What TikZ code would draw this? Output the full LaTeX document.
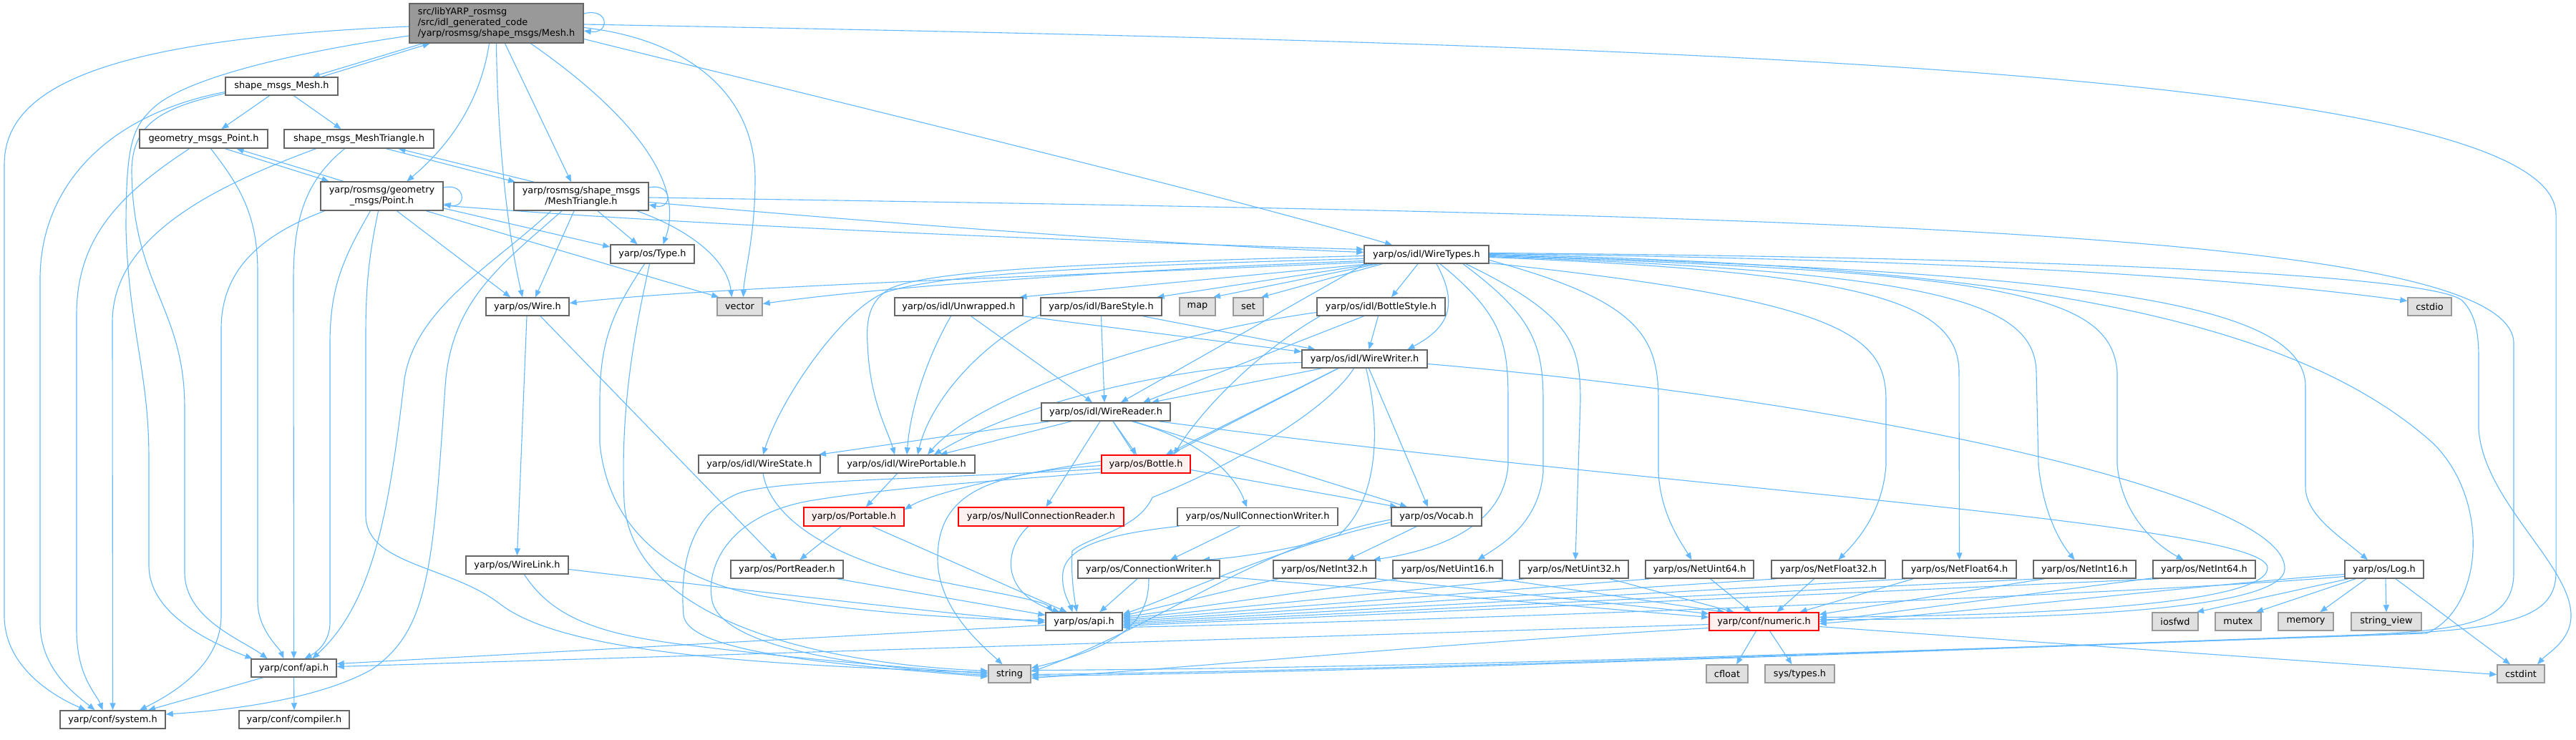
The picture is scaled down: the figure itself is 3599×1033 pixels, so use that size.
\documentclass[tikz,border=0pt]{standalone}
\usepackage{fontspec}
\setmainfont{DejaVu Sans}
\usetikzlibrary{arrows.meta,backgrounds}
\definecolor{lijnblauw}{HTML}{63B8FF}
\definecolor{randgrijs}{HTML}{666666}
\definecolor{sysrand}{HTML}{999999}
\definecolor{sysvul}{HTML}{E0E0E0}
\definecolor{hoofdvul}{HTML}{999999}
\definecolor{rodevul}{HTML}{FFF0F0}

\begin{document}
\begin{tikzpicture}[x=1pt,y=-1pt]

    % Stijlen voor de bestanden en de include-pijlen
    \tikzset{
        hdr/.style={draw=randgrijs, fill=white, line width=1.5pt, inner sep=0pt, minimum height=25pt, font=\fontsize{12.9}{15}\selectfont},
        syshdr/.style={hdr, draw=sysrand, fill=sysvul},
        trunchdr/.style={hdr, draw=red, fill=rodevul},
        mainhdr/.style={hdr, fill=hoofdvul, align=left},
        incl/.style={draw=lijnblauw, line width=1.1pt, -{Triangle[length=10pt,width=8pt]}}
    }

    \useasboundingbox (0,0) rectangle (3599,1033);

    % --- BESTANDEN ---
    \node[mainhdr, minimum width=243pt, minimum height=55pt] (mesh) at (693.5,32.5) {src/libYARP\_rosmsg\\/src/idl\_generated\_code\\/yarp/rosmsg/shape\_msgs/Mesh.h};
    \node[hdr, minimum width=157pt] (oldmesh) at (393.5,120.5) {shape\_msgs\_Mesh.h};
    \node[hdr, minimum width=179pt, minimum height=26pt] (oldpoint) at (284.5,194) {geometry\_msgs\_Point.h};
    \node[hdr, minimum width=209pt, minimum height=26pt] (oldtri) at (501.5,194) {shape\_msgs\_MeshTriangle.h};
    \node[hdr, minimum width=171pt, minimum height=40pt, align=center] (point) at (533.5,274) {yarp/rosmsg/geometry\\\_msgs/Point.h};
    \node[hdr, minimum width=188pt, minimum height=39pt, align=center] (tri) at (812,274.5) {yarp/rosmsg/shape\_msgs\\/MeshTriangle.h};
    \node[hdr, minimum width=117pt, minimum height=26pt] (type) at (911.5,355) {yarp/os/Type.h};
    \node[hdr, minimum width=174pt] (wiretypes) at (1993,355.5) {yarp/os/idl/WireTypes.h};

    \node[hdr, minimum width=116pt] (wire) at (737,428.5) {yarp/os/Wire.h};
    \node[syshdr, minimum width=63pt] (vector) at (1033.5,428.5) {vector};
    \node[hdr, minimum width=179pt] (unwrapped) at (1339.5,428.5) {yarp/os/idl/Unwrapped.h};
    \node[hdr, minimum width=169pt] (barestyle) at (1538.5,428.5) {yarp/os/idl/BareStyle.h};
    \node[syshdr, minimum width=50pt] (map) at (1673,428.5) {map};
    \node[syshdr, minimum width=42pt] (set) at (1744,428.5) {set};
    \node[hdr, minimum width=179pt] (bottlestyle) at (1929.5,428.5) {yarp/os/idl/BottleStyle.h};
    \node[syshdr, minimum width=61pt] (cstdio) at (3394.5,428.5) {cstdio};

    \node[hdr, minimum width=175pt] (wirewriter) at (1906.5,501.5) {yarp/os/idl/WireWriter.h};
    \node[hdr, minimum width=180pt] (wirereader) at (1545,575.5) {yarp/os/idl/WireReader.h};

    \node[hdr, minimum width=170pt] (wirestate) at (1061,648.5) {yarp/os/idl/WireState.h};
    \node[hdr, minimum width=191pt] (wireportable) at (1266.5,648.5) {yarp/os/idl/WirePortable.h};
    \node[trunchdr, minimum width=124pt] (bottle) at (1601,648.5) {yarp/os/Bottle.h};

    \node[trunchdr, minimum width=140pt, minimum height=26pt] (portable) at (1193,722) {yarp/os/Portable.h};
    \node[trunchdr, minimum width=231pt, minimum height=26pt] (ncreader) at (1454.5,722) {yarp/os/NullConnectionReader.h};
    \node[hdr, minimum width=224pt] (ncwriter) at (1757,722) {yarp/os/NullConnectionWriter.h};
    \node[hdr, minimum width=126pt, minimum height=26pt] (vocab) at (2007,722) {yarp/os/Vocab.h};

    \node[hdr, minimum width=143pt] (wirelink) at (722.5,789.5) {yarp/os/WireLink.h};
    \node[hdr, minimum width=157pt] (portreader) at (1099.5,795.5) {yarp/os/PortReader.h};
    \node[hdr, minimum width=198pt] (connwriter) at (1605,795.5) {yarp/os/ConnectionWriter.h};
    \foreach \nm/\x/\w in {NetInt32/1850.5/143, NetUint16/2022.5/153, NetUint32/2199/152, NetUint64/2374.5/151, NetFloat32/2554.5/159, NetFloat64/2737.5/159, NetInt16/2912.5/143, NetInt64/3079.5/143}
        \node[hdr, minimum width=\w pt] (\nm) at (\x,795.5) {yarp/os/\nm.h};
    \node[hdr, minimum width=110pt] (log) at (3331,795.5) {yarp/os/Log.h};

    \node[hdr, minimum width=107pt] (osapi) at (1514.5,868.5) {yarp/os/api.h};
    \node[trunchdr, minimum width=153pt] (numeric) at (2464.5,868.5) {yarp/conf/numeric.h};
    \foreach \nm/\x/\w in {iosfwd/3039/64, mutex/3127/64, memory/3221.5/77}
        \node[syshdr, minimum width=\w pt] (\nm) at (\x,868.5) {\nm};
    \node[syshdr, minimum width=98pt] (stringview) at (3334,868.5) {string\_view};

    \node[hdr, minimum width=119pt] (confapi) at (410.5,933.5) {yarp/conf/api.h};
    \node[syshdr, minimum width=59pt] (string) at (1410.5,941.5) {string};
    \node[syshdr, minimum width=58pt] (cfloat) at (2413,941.5) {cfloat};
    \node[syshdr, minimum width=97pt] (systypes) at (2514.5,941.5) {sys/types.h};
    \node[syshdr, minimum width=66pt] (cstdint) at (3522,941.5) {cstdint};
    \node[hdr, minimum width=147pt] (system) at (157.5,1005.5) {yarp/conf/system.h};
    \node[hdr, minimum width=154pt] (compiler) at (411,1005.5) {yarp/conf/compiler.h};

    \begin{pgfonlayer}{background}
    % --- PIJLEN VANUIT HET HOOFDBESTAND ---
    \draw[incl] ([yshift=13.5pt]mesh.east) .. controls (852,10) and (852,48) .. ([yshift=-10.5pt]mesh.east);
    \draw[incl] ([xshift=-103pt]mesh.south) -- ([xshift=43pt]oldmesh.north);
    \draw[incl] ([xshift=56pt]oldmesh.north) -- ([xshift=-93pt]mesh.south);
    \draw[incl] ([yshift=-4.5pt]mesh.west) .. controls (150,55) and (6,120) .. (6,230) -- (6,860) .. controls (6,935) and (80,975) .. ([xshift=-37.5pt]system.north);
    \draw[incl] ([yshift=-17.5pt]mesh.west) .. controls (400,75) and (260,110) .. (215,150) .. controls (185,178) and (176,200) .. (176,320) .. controls (180,460) and (208,520) .. (208,640) -- (208,790) .. controls (208,860) and (300,900) .. ([xshift=-58pt]confapi.north);
    \draw[incl] ([xshift=-10pt]mesh.south) .. controls (670,150) and (620,210) .. ([xshift=35pt]point.north);
    \draw[incl] (mesh.south) .. controls (695,200) and (710,330) .. ([xshift=-7pt]wire.north);
    \draw[incl] ([xshift=12pt]mesh.south) -- ([xshift=-14pt]tri.north);
    \draw[incl] ([xshift=48pt]mesh.south) .. controls (870,150) and (960,250) .. ([xshift=15pt]type.north);
    \draw[incl] ([yshift=-6pt]mesh.east) .. controls (960,55) and (1055,130) .. (1055,250) .. controls (1055,330) and (1040,380) .. ([xshift=5pt]vector.north);
    \draw[incl] ([yshift=-22pt]mesh.east) .. controls (1200,150) and (1700,270) .. ([xshift=-48pt]wiretypes.north);
    \draw[incl] ([yshift=-1.5pt]mesh.east) .. controls (2200,60) and (3571,90) .. (3571,300) -- (3571,800) .. controls (3571,866) and (3500,880) .. (3300,888) .. controls (2800,905) and (2000,938) .. ([yshift=-3pt]string.east);

    % --- OUDE SHAPE/GEOMETRY HEADERS ---
    \draw[incl] ([yshift=-8pt]oldmesh.west) .. controls (150,160) and (56,260) .. (56,390) -- (56,870) .. controls (56,935) and (105,970) .. ([xshift=-25pt]system.north);
    \draw[incl] ([yshift=-10pt]oldmesh.west) .. controls (230,150) and (184,170) .. (184,240) .. controls (186,400) and (258,430) .. (258,570) -- (258,800) .. controls (258,865) and (340,895) .. ([xshift=-37pt]confapi.north);
    \draw[incl] ([xshift=-17pt]oldmesh.south) -- ([xshift=25pt]oldpoint.north);
    \draw[incl] ([xshift=17pt]oldmesh.south) -- ([xshift=-25pt]oldtri.north);
    \draw[incl] ([xshift=-20pt]oldpoint.south) .. controls (170,270) and (107,330) .. (107,440) -- (107,880) .. controls (107,945) and (135,970) .. ([xshift=-14pt]system.north);
    \draw[incl] ([xshift=10pt]oldpoint.south) .. controls (335,260) and (360,300) .. (360,380) -- (360,840) .. controls (360,880) and (390,905) .. ([xshift=-14pt]confapi.north);
    \draw[incl] ([xshift=30pt]oldpoint.south) -- ([xshift=-74pt]point.north);
    \draw[incl] ([xshift=-54pt]point.north) -- ([xshift=46pt]oldpoint.south);
    \draw[incl] ([xshift=-60pt]oldtri.south) .. controls (300,260) and (157,330) .. (157,450) -- (system.north);
    \draw[incl] ([xshift=-20pt]oldtri.south) .. controls (430,250) and (410,300) .. (410,390) -- (confapi.north);
    \draw[incl] ([xshift=38pt]oldtri.south) -- ([xshift=-92pt]tri.north);
    \draw[incl] ([xshift=-66pt]tri.north) -- ([xshift=55pt]oldtri.south);

    % --- POINT EN MESHTRIANGLE ---
    \draw[incl] ([yshift=12pt]point.east) .. controls (652,255) and (652,292) .. ([yshift=-11pt]point.east);
    \draw[incl] ([yshift=12.5pt]tri.east) .. controls (940,255) and (940,293) .. ([yshift=-11.5pt]tri.east);
    \draw[incl] ([xshift=-80pt]point.south) .. controls (360,330) and (309,380) .. (309,460) -- (309,860) .. controls (309,925) and (250,965) .. ([xshift=37.5pt]system.north);
    \draw[incl] ([xshift=-16pt]point.south) .. controls (480,360) and (461,400) .. (461,480) -- (461,870) .. controls (461,895) and (445,910) .. ([xshift=15pt]confapi.north);
    \draw[incl] ([xshift=-5pt]point.south) .. controls (515,360) and (511,400) .. (511,470) -- (511,720) .. controls (511,790) and (630,790) .. (700,845) .. controls (780,905) and (1000,928) .. ([yshift=2pt]string.west);
    \draw[incl] ([xshift=21pt]point.south) -- ([xshift=-24pt]wire.north);
    \draw[incl] ([xshift=62pt]point.south) -- ([xshift=3pt]vector.north west);
    \draw[incl] ([yshift=-17pt]point.east) -- ([yshift=10pt]type.west);
    \draw[incl] ([yshift=-13pt]point.east) .. controls (1000,318) and (1600,340) .. ([yshift=7pt]wiretypes.west);
    \draw[incl] ([xshift=-27pt]tri.south) .. controls (700,370) and (630,420) .. (622,540) .. controls (605,790) and (600,880) .. (520,935) .. controls (450,975) and (330,992) .. ([yshift=7.5pt]system.east);
    \draw[incl] ([xshift=-42pt]tri.south) .. controls (690,370) and (580,430) .. (565,530) .. controls (545,700) and (525,840) .. ([xshift=26pt]confapi.north);
    \draw[incl] ([xshift=-10pt]tri.south) -- ([xshift=11pt]wire.north);
    \draw[incl] ([xshift=23pt]tri.south) -- ([xshift=-21pt]type.north);
    \draw[incl] ([xshift=78pt]tri.south) .. controls (960,320) and (1015,360) .. ([xshift=-11pt]vector.north);
    \draw[incl] ([yshift=-1.5pt]tri.east) .. controls (2500,300) and (3512,320) .. (3512,480) -- (3512,800) .. controls (3512,868) and (3450,880) .. (3300,887) .. controls (2800,905) and (2000,936) .. ([yshift=-1pt]string.east);
    \draw[incl] ([yshift=-8pt]tri.east) .. controls (1300,318) and (1700,345) .. ([yshift=3pt]wiretypes.west);

    % --- TYPE, WIRE EN WIRELINK ---
    \draw[incl] ([xshift=-11pt]type.south) .. controls (860,430) and (838,470) .. (838,560) -- (838,620) .. controls (850,740) and (940,820) .. (1100,838) .. controls (1250,862) and (1400,866) .. ([yshift=2pt]osapi.west);
    \draw[incl] ([xshift=-4pt]type.south) .. controls (890,450) and (866,560) .. (872,700) .. controls (880,850) and (1100,925) .. ([yshift=4pt]string.west);
    \draw[incl] ([xshift=-1pt]wire.south) -- (wirelink.north);
    \draw[incl] ([xshift=18pt]wire.south) -- ([xshift=-14pt]portreader.north);
    \draw[incl] ([yshift=-6pt]wirelink.east) .. controls (1000,820) and (1300,855) .. ([yshift=-1pt]osapi.west);
    \draw[incl] ([xshift=10pt]wirelink.south) .. controls (770,860) and (830,885) .. (950,900) .. controls (1150,925) and (1300,935) .. (string.west);

    % --- WIRETYPES NAAR LINKS ---
    \draw[incl] ([yshift=-2pt]wiretypes.west) .. controls (1500,368) and (1300,378) .. (1244,403) .. controls (1215,420) and (1210,445) .. (1212,480) .. controls (1215,560) and (1240,600) .. ([xshift=-16.5pt]wireportable.north);
    \draw[incl] ([yshift=-6pt]wiretypes.west) .. controls (1500,372) and (1300,385) .. (1233,410) .. controls (1170,440) and (1090,560) .. ([xshift=5pt]wirestate.north);
    \draw[incl] ([yshift=-9pt]wiretypes.west) .. controls (1500,380) and (1200,405) .. ([yshift=4pt]vector.east);
    \draw[incl] ([yshift=-11pt]wiretypes.west) .. controls (1500,385) and (1000,400) .. ([yshift=5pt]wire.east);
    \draw[incl] ([xshift=2pt]wiretypes.south west) -- ([xshift=21pt]wirereader.north);
    \draw[incl] ([xshift=8pt]wiretypes.south west) -- ([xshift=85pt]unwrapped.north);
    \draw[incl] ([xshift=14pt]wiretypes.south west) -- ([xshift=78pt]barestyle.north);
    \draw[incl] ([xshift=20pt]wiretypes.south west) -- ([xshift=22pt]map.north);
    \draw[incl] ([xshift=26pt]wiretypes.south west) -- ([xshift=18pt]set.north);
    \draw[incl] ([xshift=-12pt]wiretypes.south) -- ([xshift=14.5pt]bottlestyle.north);
    \draw[incl] ([xshift=14pt]wiretypes.south) .. controls (2035,420) and (2030,455) .. ([xshift=60pt]wirewriter.north);

    % --- WIRETYPES NAAR DE NET-TYPES ---
    \draw[incl] ([xshift=19pt]wiretypes.south) .. controls (2100,440) and (2107,480) .. (2107,560) -- (2107,650) .. controls (2100,740) and (2000,770) .. ([xshift=68pt]NetInt32.north);
    \draw[incl] ([xshift=51pt]wiretypes.south) .. controls (2140,440) and (2156,480) .. (2156,560) -- (2156,660) .. controls (2150,730) and (2100,760) .. ([xshift=42pt]NetUint16.north);
    \draw[incl] ([xshift=55pt]wiretypes.south) .. controls (2195,440) and (2208,480) .. (2208,560) -- ([xshift=2pt]NetUint32.north);
    \draw[incl] ([yshift=-8pt]wiretypes.east) .. controls (2290,420) and (2317,470) .. (2317,560) -- (2317,660) .. controls (2320,720) and (2350,760) .. ([xshift=-11pt]NetUint64.north);
    \draw[incl] ([yshift=-12pt]wiretypes.east) .. controls (2580,420) and (2635,470) .. (2635,560) -- (2635,650) .. controls (2630,720) and (2590,760) .. ([xshift=14pt]NetFloat32.north);
    \draw[incl] ([yshift=-4pt]wiretypes.east) .. controls (2600,380) and (2737,420) .. (2737,520) -- (NetFloat64.north);
    \draw[incl] ([yshift=-3pt]wiretypes.east) .. controls (2700,380) and (2843,420) .. (2845,520) -- (2848,650) .. controls (2855,720) and (2880,760) .. ([xshift=-14pt]NetInt16.north);
    \draw[incl] ([yshift=-2pt]wiretypes.east) .. controls (2800,380) and (2950,410) .. (2958,520) -- (2958,650) .. controls (2965,720) and (3010,760) .. ([xshift=-29pt]NetInt64.north);
    \draw[incl] ([yshift=-1pt]wiretypes.east) .. controls (2900,380) and (3221,420) .. (3221,540) -- (3221,680) .. controls (3221,720) and (3270,750) .. ([xshift=-23pt]log.north);
    \draw[incl] ([yshift=1pt]wiretypes.east) .. controls (2700,362) and (3100,385) .. ([yshift=8pt]cstdio.west);
    \draw[incl] ([yshift=2pt]wiretypes.east) .. controls (2900,360) and (3400,385) .. (3440,420) .. controls (3460,440) and (3463,470) .. (3463,500) -- (3463,600) .. controls (3470,700) and (3592,790) .. (3592,860) .. controls (3592,895) and (3560,912) .. ([xshift=23pt]cstdint.north);
    \draw[incl] (wiretypes.east) .. controls (2800,370) and (3200,440) .. (3400,620) .. controls (3480,700) and (3470,850) .. (3390,885) .. controls (2800,905) and (2000,934) .. ([yshift=5pt]string.east);

    % --- IDL STIJLEN ---
    \draw[incl] ([xshift=-11pt]unwrapped.south) .. controls (1295,500) and (1272,570) .. ([xshift=0.5pt]wireportable.north);
    \draw[incl] ([xshift=17pt]unwrapped.south) -- ([xshift=-19pt]wirereader.north);
    \draw[incl] (unwrapped.south east) -- ([yshift=10pt]wirewriter.west);
    \draw[incl] ([yshift=2pt]barestyle.south west) .. controls (1370,480) and (1300,560) .. ([xshift=15.5pt]wireportable.north);
    \draw[incl] (barestyle.south) -- ([xshift=-2pt]wirereader.north);
    \draw[incl] ([xshift=58pt]barestyle.south) -- ([xshift=-69pt]wirewriter.north);
    \draw[incl] ([yshift=-8pt]bottlestyle.west) .. controls (1600,470) and (1360,560) .. ([xshift=29.5pt]wireportable.north);
    \draw[incl] ([xshift=5pt]bottlestyle.south west) .. controls (1760,490) and (1680,570) .. ([xshift=39pt]bottle.north);
    \draw[incl] ([xshift=-24pt]bottlestyle.south) -- ([xshift=52pt]wirereader.north);
    \draw[incl] ([xshift=-4pt]bottlestyle.south) -- ([xshift=6pt]wirewriter.north);

    % --- WIREWRITER ---
    \draw[incl] ([yshift=-5pt]wirewriter.west) .. controls (1650,510) and (1430,560) .. ([xshift=38.5pt]wireportable.north);
    \draw[incl] ([xshift=-60pt]wirewriter.south) -- ([xshift=64pt]wirereader.north);
    \draw[incl] ([xshift=-37pt]wirewriter.south) -- ([xshift=28pt]bottle.north);
    \draw[incl] ([xshift=-37pt]wirewriter.south) -- (1629,638) -- (1539,655) .. controls (1300,670) and (1080,670) .. (1030,690) .. controls (960,720) and (950,800) .. (955,860) .. controls (962,910) and (1150,928) .. ([yshift=-4pt]string.west);
    \draw[incl] ([xshift=-15pt]wirewriter.south) .. controls (1850,580) and (1700,660) .. (1610,695) .. controls (1590,740) and (1520,750) .. (1498,770) .. controls (1496,800) and (1500,830) .. ([xshift=-10pt]osapi.north);
    \draw[incl] ([xshift=2pt]wirewriter.south) .. controls (1930,600) and (1925,700) .. (1870,748) .. controls (1800,770) and (1720,780) .. ([xshift=75pt]connwriter.north);
    \draw[incl] ([xshift=6pt]wirewriter.south) -- ([xshift=-12pt]vocab.north);
    \draw[incl] ([yshift=-7pt]wirewriter.east) .. controls (2600,560) and (3195,690) .. (3192,795) .. controls (3190,850) and (2900,866) .. ([yshift=3pt]numeric.east);

    % --- WIREREADER ---
    \draw[incl] ([xshift=-78pt]wirereader.south) -- ([xshift=83pt]wirestate.north);
    \draw[incl] ([xshift=-48pt]wirereader.south) -- ([xshift=47pt]wireportable.north);
    \draw[incl] ([xshift=-8pt]wirereader.south) -- ([xshift=7pt]ncreader.north);
    \draw[incl] ([xshift=10pt]wirereader.south) -- ([xshift=-13pt]bottle.north);
    \draw[incl] ([xshift=10pt]wirereader.south) -- (1588,640) -- (1539,660) .. controls (1420,670) and (1250,680) .. (1130,700) .. controls (1020,720) and (985,790) .. (995,840) .. controls (1010,905) and (1200,932) .. ([yshift=-2pt]string.west);
    \draw[incl] ([xshift=36pt]wirereader.south) .. controls (1660,610) and (1720,650) .. ([xshift=-15pt]ncwriter.north);
    \draw[incl] ([xshift=39pt]wirereader.south) -- ([xshift=-41pt]vocab.north);
    \draw[incl] ([xshift=74pt]wirereader.south) .. controls (2300,680) and (3165,730) .. (3168,793) .. controls (3170,840) and (2900,860) .. ([yshift=6pt]numeric.east);

    % --- MIDDENLAAG ---
    \draw[incl] ([xshift=5pt]wirestate.south) .. controls (1080,740) and (1200,790) .. (1300,810) .. controls (1400,830) and (1460,840) .. ([xshift=-44pt]osapi.north);
    \draw[incl] ([xshift=-13pt]wireportable.south) -- ([xshift=17pt]portable.north);
    \draw[incl] ([yshift=4pt]bottle.west) .. controls (1400,665) and (1300,690) .. ([yshift=10pt]portable.east);
    \draw[incl] ([yshift=-2pt]bottle.west) .. controls (1380,660) and (1310,690) .. (1310,780) .. controls (1310,850) and (1370,900) .. ([xshift=-10pt]string.north);
    \draw[incl] ([yshift=-8pt]bottle.east) -- ([xshift=-55pt]vocab.north);
    \draw[incl] ([xshift=-18pt]portable.south) -- ([xshift=18pt]portreader.north);
    \draw[incl] ([xshift=26pt]portable.south) -- ([xshift=-24pt]osapi.north);
    \draw[incl] ([xshift=-18pt]ncreader.south) .. controls (1400,770) and (1400,830) .. ([xshift=-34pt]osapi.north);
    \draw[incl] ([xshift=-110pt]ncwriter.south) .. controls (1560,745) and (1490,760) .. (1485,800) .. controls (1482,825) and (1495,845) .. ([xshift=-16pt]osapi.north);
    \draw[incl] ([xshift=-25pt]ncwriter.south) -- ([xshift=30pt]connwriter.north);
    \draw[incl] ([xshift=-28pt]vocab.south) -- ([xshift=32pt]NetInt32.north);
    \draw[incl] ([yshift=-8pt]vocab.west) .. controls (1800,760) and (1650,830) .. ([yshift=10pt]osapi.east);
    \draw[incl] ([yshift=-4pt]vocab.west) .. controls (1760,760) and (1610,880) .. ([yshift=3pt]string.east);
    \draw[incl] ([xshift=70pt]portreader.south) -- ([yshift=9pt]osapi.west);
    \draw[incl] ([xshift=-16pt]connwriter.south) -- ([xshift=22pt]osapi.north);
    \draw[incl] (connwriter.south) .. controls (1605,860) and (1580,900) .. ([yshift=8pt]string.east);
    \draw[incl] ([yshift=-10pt]connwriter.east) -- ([yshift=6pt]numeric.west);

    % --- NET-TYPES EN LOG ---
    \foreach \nm/\dy in {NetInt32/8, NetUint16/6, NetUint32/4, NetUint64/2, NetFloat32/0, NetFloat64/-2, NetInt16/-4, NetInt64/-6}
        \draw[incl] ([xshift=8pt]\nm.south west) -- ([yshift=\dy pt]osapi.east);
    \draw[incl] (NetInt32.south east) -- ([yshift=11pt]numeric.west);
    \draw[incl] ([xshift=-6pt]NetUint16.south east) -- ([xshift=-55pt]numeric.north);
    \draw[incl] ([xshift=50pt]NetUint32.south) -- ([xshift=-42pt]numeric.north);
    \draw[incl] ([xshift=15pt]NetUint64.south) -- ([xshift=-18pt]numeric.north);
    \draw[incl] ([xshift=-20pt]NetFloat32.south) -- ([xshift=18pt]numeric.north);
    \draw[incl] ([xshift=16pt]NetFloat64.south west) -- ([xshift=50pt]numeric.north);
    \draw[incl] ([xshift=16pt]NetInt16.south west) -- ([yshift=10pt]numeric.east);
    \draw[incl] ([yshift=1pt]NetInt64.south west) -- (numeric.east);
    \draw[incl] ([yshift=-10pt]log.west) .. controls (3000,830) and (2000,868) .. ([yshift=-8pt]osapi.east);
    \draw[incl] ([yshift=-7pt]log.west) .. controls (3100,815) and (2800,850) .. ([yshift=-3pt]numeric.east);
    \draw[incl] ([xshift=-50pt]log.south) -- ([xshift=30pt]iosfwd.north);
    \draw[incl] ([xshift=-40pt]log.south) -- ([xshift=25pt]mutex.north);
    \draw[incl] ([xshift=-25pt]log.south) -- ([xshift=20pt]memory.north);
    \draw[incl] ([xshift=2pt]log.south) -- (stringview.north);
    \draw[incl] ([xshift=16pt]log.south) -- ([xshift=-15pt]cstdint.north);

    % --- ONDERSTE LAAG ---
    \draw[incl] ([yshift=-5pt]osapi.west) -- ([yshift=6pt]confapi.east);
    \draw[incl] ([yshift=-4pt]numeric.west) -- ([yshift=2pt]confapi.east);
    \draw[incl] ([yshift=-9pt]numeric.west) .. controls (2000,900) and (1700,930) .. ([yshift=-6pt]string.east);
    \draw[incl] ([xshift=-11pt]numeric.south) -- ([xshift=13pt]cfloat.north);
    \draw[incl] ([xshift=8pt]numeric.south) -- ([xshift=-11pt]systypes.north);
    \draw[incl] ([yshift=-7pt]numeric.east) -- ([yshift=-1pt]cstdint.west);
    \draw[incl] ([xshift=-43pt]confapi.south) -- ([xshift=49.5pt]system.north);
    \draw[incl] (confapi.south) -- (compiler.north);
    \end{pgfonlayer}

\end{tikzpicture}
\end{document}
